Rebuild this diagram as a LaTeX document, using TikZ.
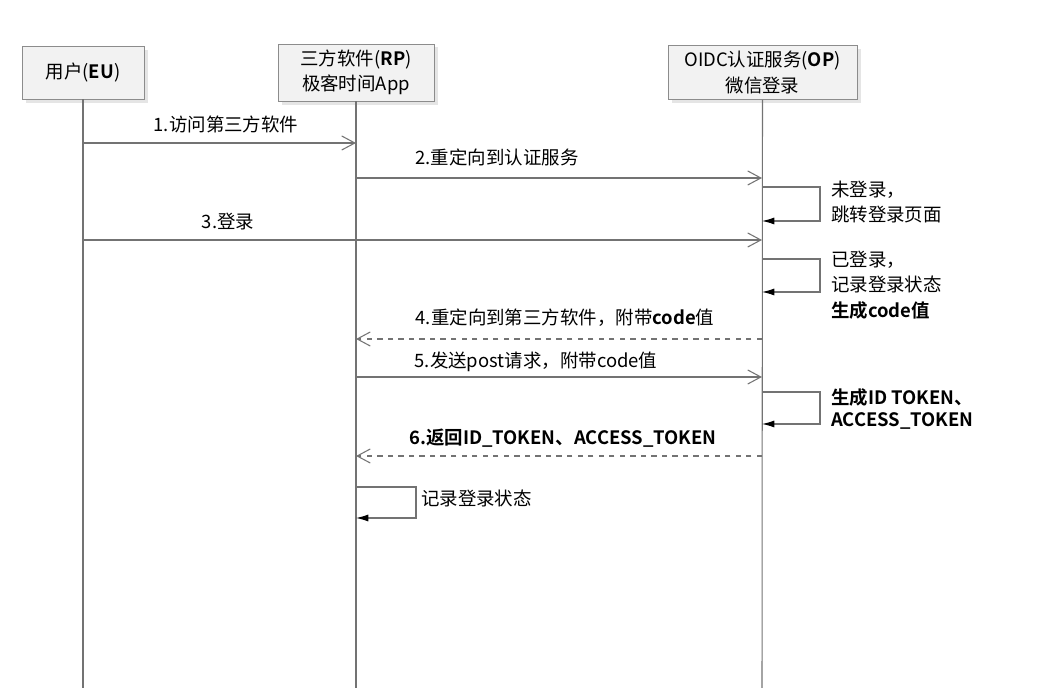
\documentclass[tikz,border=0pt]{standalone}
\usepackage{fontspec}
\setmainfont{Noto Sans CJK SC}[BoldFont={Noto Sans CJK SC Bold}]
\usetikzlibrary{arrows.meta,shadows,calc}

\begin{document}
\begin{tikzpicture}[x=0.02cm,y=-0.02cm,
	font=\fontsize{10.5}{14.5}\selectfont,
	head/.style={draw=black!45,fill=black!5,minimum height=53*0.02cm,align=center,
		drop shadow={shadow xshift=2pt,shadow yshift=-2pt,fill=black!20}},
	life/.style={draw=black!55,line width=0.6pt},
	msg/.style={draw=black!55,line width=0.6pt,-{Straight Barb[length=7.5pt,width=8pt]}},
	reply/.style={msg,dashed},
	self/.style={draw=black!55,line width=0.6pt,-{Latex[length=7pt,width=4pt,black]}},
	lbl/.style={inner sep=1pt},
	note/.style={inner sep=1pt,align=left,anchor=west}]
\useasboundingbox (0,0) rectangle (1046,688);

\node[head,minimum width=122*0.02cm] (eu) at (83,72.5) {用户(\textbf{EU})};
\node[head,minimum width=156*0.02cm] (rp) at (356,72.5) {三方软件(\textbf{RP})\\极客时间App};
\node[head,minimum width=189*0.02cm] (op) at (762.5,72.5) {OIDC认证服务(\textbf{OP})\\微信登录};

\coordinate (euend) at (83,688);
\coordinate (rpend) at (356,688);
\coordinate (opend) at (762,688);
\draw[life] (eu.south) -- (euend);
\draw[life] (rp.south) -- (rpend);
\draw[life] (op.south) -- (opend);

% 1
\coordinate (a1) at (83,143); \coordinate (b1) at (356,143);
\draw[msg] (a1) -- (b1);
\node[lbl] (l1) at (226,124) {1.访问第三方软件};
% 2
\coordinate (a2) at (356,178); \coordinate (b2) at (762,178);
\draw[msg] (a2) -- (b2);
\node[lbl] (l2) at (497,157) {2.重定向到认证服务};
\coordinate (s1a) at (762,187); \coordinate (s1b) at (762,221);
\draw[self] (s1a) -- ++(58,0) |- (s1b);
\node[note] (n1) at (829,202) {未登录，\\跳转登录页面};
% 3
\coordinate (a3) at (83,240); \coordinate (b3) at (762,240);
\draw[msg] (a3) -- (b3);
\node[lbl] (l3) at (228,222) {3.登录};
\coordinate (s2a) at (762,259); \coordinate (s2b) at (762,292);
\draw[self] (s2a) -- ++(58,0) |- (s2b);
\node[note] (n2) at (829,285) {已登录，\\记录登录状态\\\textbf{生成code值}};
% 4
\coordinate (a4) at (762,339); \coordinate (b4) at (356,339);
\draw[reply] (a4) -- (b4);
\node[lbl] (l4) at (565,318) {4.重定向到第三方软件，附带\textbf{code}值};
% 5
\coordinate (a5) at (356,377); \coordinate (b5) at (762,377);
\draw[msg] (a5) -- (b5);
\node[lbl] (l5) at (536,362) {5.发送post请求，附带code值};
\coordinate (s3a) at (762,392); \coordinate (s3b) at (762,424);
\draw[self] (s3a) -- ++(58,0) |- (s3b);
\node[note,font=\fontsize{10.5}{12}\selectfont\bfseries] (n3) at (829,409) {生成ID TOKEN、\\ACCESS\_TOKEN};
% 6
\coordinate (a6) at (762,456); \coordinate (b6) at (356,456);
\draw[reply] (a6) -- (b6);
\node[lbl,font=\fontsize{10.5}{14.5}\selectfont\bfseries] (l6) at (563,438) {6.返回ID\_TOKEN、ACCESS\_TOKEN};
\coordinate (s4a) at (356,487); \coordinate (s4b) at (356,518);
\draw[self] (s4a) -- ++(60,0) |- (s4b);
\node[note] (n4) at (419,498) {记录登录状态};
\end{tikzpicture}
\end{document}
